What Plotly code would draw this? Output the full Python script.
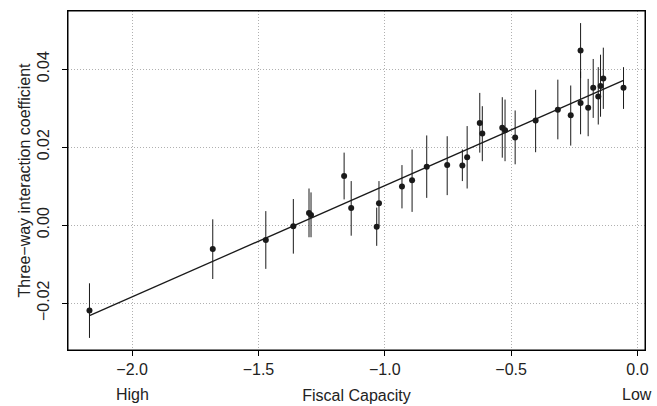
import plotly.graph_objects as go

# Fiscal capacity (x), three-way interaction coefficient (y) and CI bounds
fiscal_capacity = [-2.169, -1.681, -1.471, -1.362, -1.300, -1.292, -1.161, -1.133,
                   -1.032, -1.023, -0.932, -0.892, -0.834, -0.753, -0.693, -0.674,
                   -0.624, -0.614, -0.535, -0.524, -0.484, -0.403, -0.315, -0.264,
                   -0.225, -0.225, -0.195, -0.175, -0.155, -0.146, -0.135, -0.055]
coefficient = [-0.0219, -0.0061, -0.0038, -0.0003, 0.0031, 0.0026, 0.0126, 0.0044,
               -0.0004, 0.0056, 0.0099, 0.0115, 0.0150, 0.0154, 0.0153, 0.0174,
               0.0262, 0.0235, 0.0250, 0.0243, 0.0225, 0.0268, 0.0296, 0.0282,
               0.0448, 0.0313, 0.0301, 0.0352, 0.0330, 0.0357, 0.0376, 0.0352]
ci_low = [-0.0289, -0.0138, -0.0112, -0.0073, -0.0031, -0.0031, 0.0066, -0.0027,
          -0.0053, -0.0002, 0.0043, 0.0034, 0.0070, 0.0077, 0.0113, 0.0094,
          0.0186, 0.0164, 0.0173, 0.0164, 0.0156, 0.0187, 0.0220, 0.0204,
          0.0377, 0.0233, 0.0228, 0.0275, 0.0258, 0.0278, 0.0298, 0.0298]
ci_high = [-0.0149, 0.0015, 0.0036, 0.0067, 0.0094, 0.0084, 0.0186, 0.0113,
           0.0045, 0.0113, 0.0154, 0.0194, 0.0230, 0.0228, 0.0194, 0.0254,
           0.0339, 0.0305, 0.0328, 0.0322, 0.0294, 0.0347, 0.0373, 0.0358,
           0.0518, 0.0394, 0.0375, 0.0426, 0.0405, 0.0437, 0.0455, 0.0405]

# fitted line coefficients
fit_intercept = 0.03867
fit_slope = 0.02852

x_ticks = [-2.0, -1.5, -1.0, -0.5, 0.0]
y_ticks = [-0.02, 0.0, 0.02, 0.04]
x_title = "Fiscal Capacity"
y_title = "Three\u2212way interaction coefficient"
end_labels = ["High", "Low"]

err_plus = [h - c for h, c in zip(ci_high, coefficient)]
err_minus = [c - l for c, l in zip(coefficient, ci_low)]

line_x = [min(fiscal_capacity), max(fiscal_capacity)]
line_y = [fit_intercept + fit_slope * v for v in line_x]

FONT = "Liberation Sans, Arial, Helvetica, sans-serif"
FS = 16
INK = "#1a1a1a"
TXT = "#222222"
GRID = "#b0b0b0"
text_font = dict(family=FONT, size=FS, color=TXT)

fig = go.Figure()
fig.add_trace(go.Scatter(
    x=fiscal_capacity, y=coefficient, mode="markers",
    marker=dict(size=6, color=INK),
    error_y=dict(type="data", array=err_plus, arrayminus=err_minus,
                 visible=True, width=0, thickness=1, color=INK),
    showlegend=False, hoverinfo="x+y"))
fig.add_trace(go.Scatter(
    x=line_x, y=line_y, mode="lines",
    line=dict(color=INK, width=1.3), showlegend=False))

axis_common = dict(
    showline=True, mirror=True, linecolor="black", linewidth=1,
    ticks="outside", ticklen=5, tickcolor="black", tickwidth=1,
    showgrid=True, gridcolor=GRID, griddash="1px,2px", gridwidth=1,
    zeroline=False, automargin=False,
    tickfont=text_font,
)

fig.update_layout(
    template="none",
    width=657, height=406,
    margin=dict(l=68, r=12, t=11, b=56),
    paper_bgcolor="white", plot_bgcolor="white",
    font=text_font,
    xaxis=dict(range=[-2.254, 0.030], tickvals=x_ticks, tickformat=".1f",
               title=dict(text=x_title, standoff=12, font=text_font),
               **axis_common),
    yaxis=dict(range=[-0.0320, 0.0549], tickvals=y_ticks, tickformat=".2f",
               tickangle=-90, ticklabelstandoff=7,
               **axis_common),
    shapes=[dict(type="rect", xref="paper", yref="paper", x0=0, x1=1, y0=0, y1=1,
                 line=dict(color="black", width=1), fillcolor="rgba(0,0,0,0)",
                 layer="above")],
    annotations=[
        dict(text=y_title, textangle=-90, x=0, xref="paper", xanchor="center",
             xshift=-44, y=0.5, yref="paper", yanchor="middle",
             showarrow=False, font=text_font),
        dict(text=end_labels[0], x=x_ticks[0], xref="x", y=0, yref="paper",
             yanchor="middle", yshift=-44, showarrow=False, font=text_font),
        dict(text=end_labels[1], x=x_ticks[-1], xref="x", y=0, yref="paper",
             yanchor="middle", yshift=-44, showarrow=False, font=text_font),
    ],
)

fig.write_html(
    "out.html",
    config={"displayModeBar": False, "staticPlot": True},
    post_script="document.body.style.margin='0';document.body.style.overflow='hidden';",
)
